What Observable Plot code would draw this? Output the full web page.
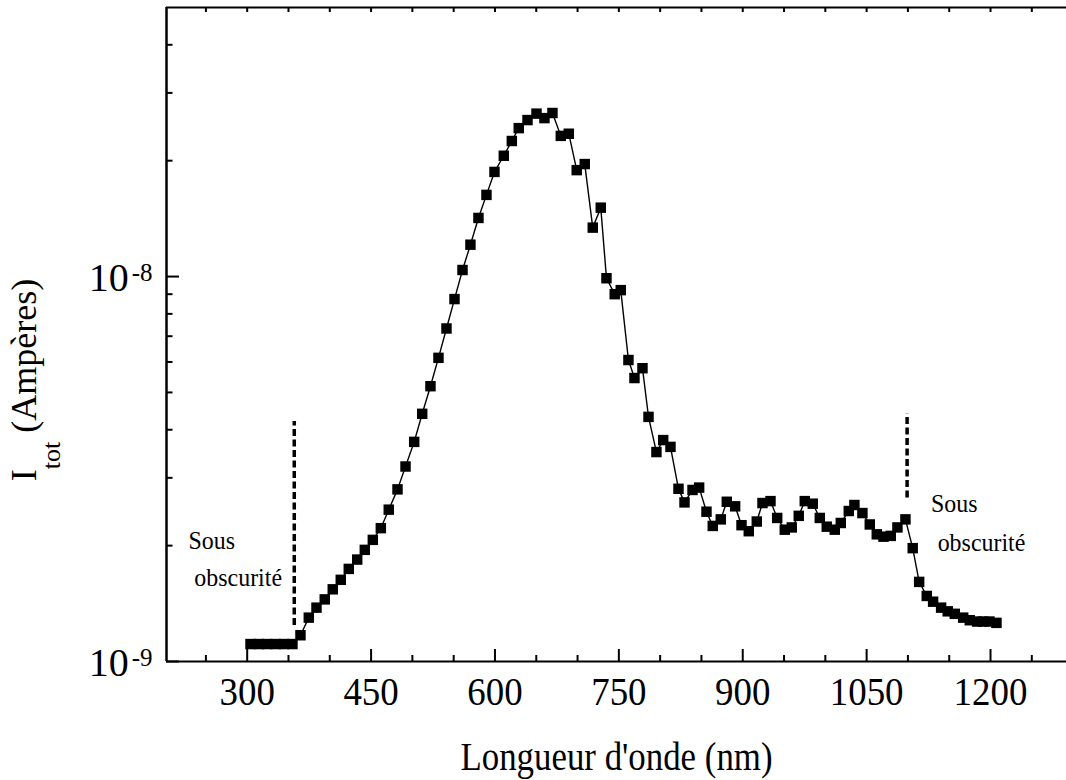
<!DOCTYPE html>
<html>
<head>
<meta charset="utf-8">
<script src="https://cdn.jsdelivr.net/npm/d3@7"></script>
<script src="https://cdn.jsdelivr.net/npm/@observablehq/plot@0.6"></script>
<style>
  html, body { margin: 0; padding: 0; background: #fff; overflow: hidden; }
  #chart svg { display: block; }
</style>
</head>
<body>
<div id="chart"></div>
<script>
// Photocurrent spectrum: wavelength (nm) and total current (nA)
const wavelength = [
  304, 314, 324, 334.5, 344.7, 354.8, 364.5, 374.6, 383.9, 393.9,
  403.6, 413.3, 423, 433.2, 442.4, 452.1, 461.8, 471.4, 482, 491.7,
  502.2, 511.9, 521.9, 531.6, 541.3, 551, 560.7, 570.3, 580, 589.7,
  599.4, 610.7, 620.4, 628.8, 639.4, 650.3, 659.9, 669.6, 679.7, 689.4,
  699, 708.7, 718.4, 728.1, 735, 745, 752.3, 761.6, 768.9, 778.6,
  785.9, 795.5, 803.7, 812.5, 822.2, 829.5, 839.2, 847.2, 856.1, 863.7,
  873.4, 880.7, 890.8, 898.5, 907.3, 917, 923.9, 933.6, 941.7, 950.9,
  959.4, 967.8, 975.1, 984.8, 993.3, 1001.7, 1011.4, 1018.7, 1028.4, 1035.2,
  1044.9, 1053.8, 1062.3, 1070.4, 1079.2, 1087.3, 1097, 1105.8, 1113.6, 1122.8,
  1130.5, 1140.2, 1148.2, 1156.7, 1166.9, 1174.9, 1183.8, 1191.1, 1198.7, 1207.2
];
const currentNA = [
  1.11, 1.11, 1.11, 1.11, 1.11, 1.11, 1.17, 1.30, 1.38, 1.45,
  1.54, 1.63, 1.74, 1.84, 1.95, 2.07, 2.22, 2.48, 2.80, 3.21,
  3.72, 4.40, 5.19, 6.15, 7.33, 8.74, 10.4, 12.1, 14.2, 16.3,
  18.7, 20.6, 22.5, 24.3, 25.5, 26.5, 25.8, 26.6, 23.2, 23.5,
  18.9, 19.6, 13.4, 15.1, 9.90, 9.00, 9.22, 6.07, 5.45, 5.78,
  4.32, 3.50, 3.76, 3.61, 2.81, 2.59, 2.79, 2.83, 2.45, 2.25,
  2.34, 2.60, 2.53, 2.26, 2.18, 2.31, 2.58, 2.61, 2.36, 2.20,
  2.23, 2.39, 2.61, 2.57, 2.36, 2.24, 2.20, 2.29, 2.46, 2.55,
  2.43, 2.27, 2.14, 2.11, 2.12, 2.23, 2.34, 1.97, 1.61, 1.48,
  1.43, 1.38, 1.35, 1.33, 1.30, 1.28, 1.27, 1.27, 1.27, 1.26
];

// Axis ticks
const xDomain = [202.3, 1292];
const yDomain = [1e-9, 5e-8];
const xMajorTicks = [300, 450, 600, 750, 900, 1050, 1200];
const xMinorTicks = [250, 350, 400, 500, 550, 650, 700, 800, 850, 950, 1000, 1100, 1150, 1250];
const xTopTicks = [250, 300, 350, 400, 450, 500, 550, 600, 650, 700, 750, 800, 850, 900, 950, 1000, 1050, 1100, 1150, 1200, 1250];
const yMajorTicks = [1e-9, 1e-8];
const yMinorTicks = [2e-9, 3e-9, 4e-9, 5e-9, 6e-9, 7e-9, 8e-9, 9e-9, 2e-8, 3e-8, 4e-8];

// Dark-current limits (dashed markers)
const darkLimitX = [357, 1099];
const darkLimitTop = [4.2e-9, 4.4e-9];
const darkLimitBottom = [1.24e-9, 2.66e-9];

// "Sous obscurité" annotations
const noteText = ["Sous", "obscurité", "Sous", "obscurité"];
const noteX = [229, 236, 1128, 1136];
const noteY = [1.965e-9, 1.575e-9, 2.441e-9, 1.942e-9];

const xTitle = "Longueur d'onde (nm)";

const points = wavelength.map((w, i) => ({wavelength: w, current: currentNA[i] * 1e-9}));
const darkLimits = darkLimitX.map((x, i) => ({x, top: darkLimitTop[i], bottom: darkLimitBottom[i]}));
const notes = noteText.map((t, i) => ({t, x: noteX[i], y: noteY[i]}));

const serif = "'Liberation Serif', 'Times New Roman', serif";
const blank = () => "";

// Ticks point into the plot: shift each tick by its own length so it ends on the axis line
const tickOpts = {strokeWidth: 2, tickFormat: blank, label: null, fill: "none"};

const svg = Plot.plot({
  width: 1066,
  height: 780,
  marginLeft: 166,
  marginRight: 0,
  marginTop: 7,
  marginBottom: 119,
  style: {fontFamily: serif, background: "#fff", color: "#000", overflow: "visible"},
  x: {domain: xDomain, axis: null, label: null},
  y: {type: "log", domain: yDomain, axis: null, label: null},
  marks: [
    // frame: bottom, top and left lines
    Plot.ruleY(yDomain, {stroke: "#000", strokeWidth: 2}),
    Plot.ruleX([xDomain[0]], {stroke: "#000", strokeWidth: 2.5}),
    // inward ticks
    Plot.axisX(xMinorTicks, {...tickOpts, anchor: "bottom", tickSize: 6, dy: -6}),
    Plot.axisX(xMajorTicks, {...tickOpts, anchor: "bottom", tickSize: 12, dy: -12}),
    Plot.axisX(xTopTicks, {...tickOpts, anchor: "top", tickSize: 4, dy: 4}),
    Plot.axisY(yMinorTicks, {...tickOpts, anchor: "left", tickSize: 6.5, dx: 6.5}),
    Plot.axisY(yMajorTicks, {...tickOpts, anchor: "left", tickSize: 13, dx: 13}),
    // tick labels
    Plot.axisX(xMajorTicks, {anchor: "bottom", tickSize: 0, tickPadding: 14, fontSize: 41, fill: "#000", label: null, tickFormat: d => String(d)}),
    Plot.axisY(yMajorTicks, {anchor: "left", tickSize: 0, tickPadding: 14, dy: 2, fontSize: 40, fill: "#000", label: null,
      tickFormat: d => String(Math.round(Math.log10(d)))}),
    // dark-current markers
    Plot.ruleX(darkLimits, {x: "x", y1: "bottom", y2: "top", stroke: "#000", strokeWidth: 3.5, strokeDasharray: "7,3.5"}),
    // spectrum
    Plot.line(points, {x: "wavelength", y: "current", stroke: "#000", strokeWidth: 1.4}),
    Plot.dot(points, {x: "wavelength", y: "current", symbol: "square", r: 5.9, fill: "#000", stroke: "none"}),
    // annotations
    Plot.text(notes, {x: "x", y: "y", text: "t", textAnchor: "start", lineAnchor: "bottom", fontSize: 26, fill: "#000"}),
    Plot.text([xTitle], {frameAnchor: "bottom", lineAnchor: "bottom", dy: 108, fontSize: 41, fill: "#000", className: "x-title"})
  ]
});

document.getElementById("chart").append(svg);

const root = d3.select(svg);

// drop the empty labels of the tick-only axes
root.selectAll("text").filter(function () { return this.textContent === ""; }).remove();

// narrow serif lettering
function condense(selection, factor) {
  selection.each(function () {
    const len = this.getComputedTextLength();
    if (len > 0) {
      this.setAttribute("textLength", (len * factor).toFixed(1));
      this.setAttribute("lengthAdjust", "spacingAndGlyphs");
    }
  });
}

// powers of ten: "10" followed by a raised exponent
root.selectAll('g[aria-label="y-axis tick label"] text').each(function () {
  const exp = this.textContent;
  if (!exp) return;
  const t = d3.select(this).text(null);
  t.append("tspan").text("10");
  t.append("tspan").attr("font-size", 25).attr("dx", 3).attr("dy", -10).text(exp);
});

// y-axis title with subscript
const yTitle = root.append("text")
  .attr("transform", "translate(36,380) rotate(-90)")
  .attr("text-anchor", "middle")
  .attr("font-family", serif)
  .attr("font-size", 36)
  .attr("fill", "#000");
yTitle.append("tspan").text("I");
yTitle.append("tspan").attr("font-size", 26).attr("dy", 24).text("tot");
yTitle.append("tspan").attr("dy", -24).text(" (Ampères)");

condense(root.selectAll('g[aria-label="x-axis tick label"] text'), 0.9);
condense(root.selectAll('g[aria-label="text"]:not(.x-title) text'), 0.92);
condense(root.selectAll('g.x-title text'), 0.85);
</script>
</body>
</html>
